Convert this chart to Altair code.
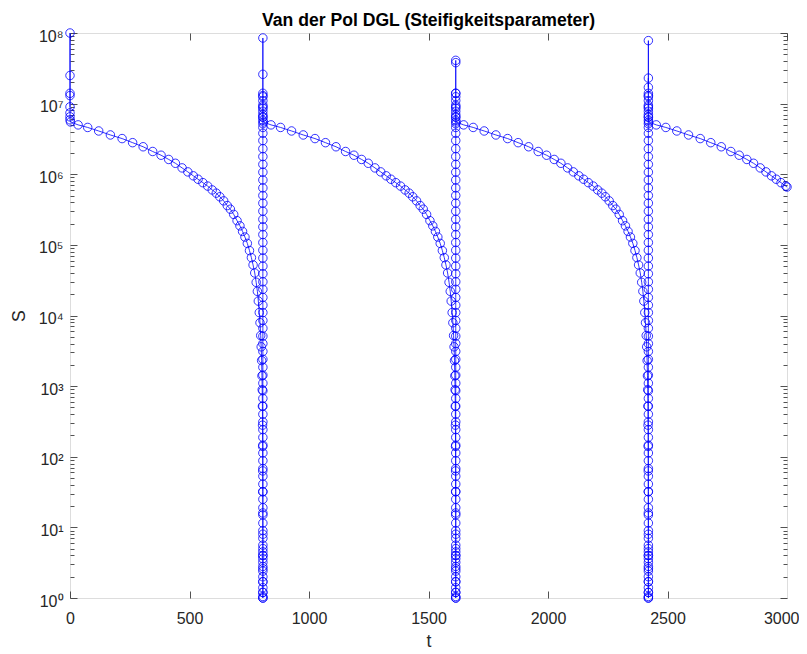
import altair as alt
import pandas as pd

# ---------------- data ----------------
# initial transient at t = 0
spike0_t = 0
spike0_S = [9.0e6, 1.3e7, 1.4e7, 2.5e7, 1.0e8, 7.4e6, 6.5e6, 5.9e6]

# start of each slow (decaying) branch and time of the following fast jump
cycle_start = [2, 809, 1615, 2421]
spike_t = [807, 1614, 2420]

# decaying branch: time since branch start, stiffness value
decay_dt = [0, 32, 72, 118, 167, 216, 260, 304, 344, 379,
            411, 439, 467, 491, 514, 534, 554, 574, 593, 610,
            625, 641, 656, 669, 683, 697, 709, 720, 730, 740,
            749, 757, 764, 771, 777, 782, 786, 790, 793, 796,
            798, 799.8, 801.2, 802.3, 803.1, 803.7, 804.2, 804.5, 804.7, 804.85,
            805]
decay_S = [5.5e6, 5.0e6, 4.6e6, 4.1e6, 3.6e6, 3.2e6, 2.8e6, 2.45e6, 2.1e6, 1.86e6,
           1.62e6, 1.43e6, 1.23e6, 1.08e6, 9.5e5, 8.5e5, 7.6e5, 6.8e5, 6.0e5, 5.4e5,
           4.8e5, 4.2e5, 3.6e5, 3.2e5, 2.7e5, 2.2e5, 1.86e5, 1.55e5, 1.29e5, 1.05e5,
           8.3e4, 6.6e4, 5.2e4, 4.0e4, 2.95e4, 2.2e4, 1.6e4, 1.1e4, 7.9e3, 5.2e3,
           3.6e3, 2.3e3, 1.4e3, 890, 520, 280, 140, 63, 32, 16,
           8]

# vertical column of solver steps during each fast jump
spike_col_S = [4.0, 2.6, 1.7, 1.2, 1.0, 1.0, 1.05, 1.2, 1.4, 1.7,
               2.0, 2.4, 2.8, 3.2, 3.6, 4.0, 4.5, 5.0, 5.6, 7,
               9, 11.5, 15, 19, 25, 32, 41, 53, 68, 88,
               113, 146, 188, 242, 312, 400, 520, 670, 860, 1.1e3,
               1.43e3, 1.85e3, 2.4e3, 3.1e3, 4e3, 5.1e3, 6.6e3, 8.5e3, 1.1e4, 1.4e4,
               1.8e4, 2.35e4, 3e4, 3.9e4, 5e4, 6.5e4, 8.4e4, 1.08e5, 1.4e5, 1.8e5,
               2.3e5, 3e5, 3.9e5, 5e5, 6.4e5, 8.3e5, 1.07e6, 1.38e6, 1.78e6, 2.3e6,
               3e6, 3.8e6, 4.6e6, 5.2e6, 5.8e6, 6.4e6, 7e6, 7.8e6, 8.6e6, 9.5e6,
               1.1e7, 1.25e7, 1.4e7]
spike_peaks = [[2.6e7, 8.5e7, 1.3e7, 9e6, 6.5e6],
               [3.8e7, 4.1e7, 1.4e7, 9e6, 6.5e6],
               [2.3e7, 1.7e7, 7.8e7, 1.3e7, 9e6, 6.5e6]]

end_t = 3000
end_S = 6.6e5

x_ticks = [0, 500, 1000, 1500, 2000, 2500, 3000]
y_major = [1, 10, 100, 1e3, 1e4, 1e5, 1e6, 1e7, 1e8]
y_minor = [m * 10 ** k for k in range(8) for m in range(2, 10)]

# ---------------- assemble the table ----------------
rows = []


def add(t, s):
    rows.append((len(rows), t, s))


for s in spike0_S:
    add(spike0_t, s)
for c in range(4):
    for dt, s in zip(decay_dt, decay_S):
        t = cycle_start[c] + dt
        if t <= end_t:
            add(t, s)
    if c < 3:
        for s in spike_col_S + spike_peaks[c]:
            add(spike_t[c], s)
add(end_t, end_S)

df = pd.DataFrame(rows, columns=["i", "t", "S"])
lim = pd.DataFrame({"t": [x_ticks[0], x_ticks[-1]], "S": [y_major[0], y_major[-1]]})

AX = "#262626"
FONT = "Liberation Sans"
BLUE = "#0000FF"

xs = alt.Scale(domain=[0, 3000], nice=False, zero=False)
ys = alt.Scale(type="log", domain=[1, 1e8], nice=False)

sup = "'10' + ['\u2070','\u00b9','\u00b2','\u00b3','\u2074','\u2075','\u2076','\u2077','\u2078'][round(log(datum.value)/LN10)]"

common_axis = dict(domain=False, grid=False, tickColor=AX, tickWidth=0.8,
                   labelColor=AX, labelFont=FONT, labelFontSize=16,
                   labelFlush=False,
                   titleColor=AX, titleFont=FONT, titleFontSize=17.6,
                   titleFontWeight="normal")

main = alt.Chart(df).mark_line(
    color=BLUE, strokeWidth=0.8,
    point=alt.OverlayMarkDef(shape="circle", filled=False, size=72,
                             stroke=BLUE, strokeWidth=0.8, color=BLUE),
).encode(
    x=alt.X("t:Q", scale=xs,
            axis=alt.Axis(values=x_ticks[:-1], orient="bottom", offset=-7, tickSize=7,
                          labelPadding=12, title="t", titlePadding=6,
                          format="d", **common_axis)),
    y=alt.Y("S:Q", scale=ys,
            axis=alt.Axis(values=y_major, orient="left", offset=-7, tickSize=7,
                          labelPadding=7, labelExpr=sup, labelOffset=3,
                          title="S", titlePadding=10, **common_axis)),
    order=alt.Order("i:Q"),
)

# last x label kept inside the page: right-aligned at the right edge
left_minor = alt.Chart(lim).mark_point(opacity=0).encode(
    x=alt.X("t:Q", scale=xs,
            axis=alt.Axis(values=x_ticks[-1:], orient="bottom", offset=-7, tickSize=7,
                          tickOpacity=0, labelPadding=12, labelAlign="right",
                          labelOffset=12, title=None, format="d", **common_axis)),
    y=alt.Y("S:Q", scale=ys,
            axis=alt.Axis(values=y_minor, orient="left", offset=-4, tickSize=4,
                          labels=False, title=None, **common_axis)),
)

right_top = alt.Chart(lim).mark_point(opacity=0).encode(
    x=alt.X("t:Q", scale=xs,
            axis=alt.Axis(values=x_ticks, orient="top", offset=-7, tickSize=7,
                          labels=False, title=None, **common_axis)),
    y=alt.Y("S:Q", scale=ys,
            axis=alt.Axis(values=y_major, orient="right", offset=-7, tickSize=7,
                          labels=False, title=None, **common_axis)),
)

right_minor = alt.Chart(lim).mark_point(opacity=0).encode(
    x=alt.X("t:Q", scale=xs, axis=None),
    y=alt.Y("S:Q", scale=ys,
            axis=alt.Axis(values=y_minor, orient="right", offset=-4, tickSize=4,
                          labels=False, title=None, **common_axis)),
)

chart = alt.layer(main, left_minor, right_top, right_minor).resolve_scale(
    x="independent", y="independent"
).properties(
    width=717, height=565,
    autosize=alt.AutoSizeParams(type="none"),
    padding={"left": 62, "top": 25, "right": 12, "bottom": 56},
    title=alt.TitleParams("Van der Pol DGL (Steifigkeitsparameter)", font=FONT,
                          fontSize=17.6, fontWeight="bold", color="black",
                          anchor="middle", frame="group", offset=-2),
).configure_view(stroke=AX, strokeWidth=0.9).configure(background="white")

chart.save("out.html", embed_options={"renderer": "svg", "actions": False})
